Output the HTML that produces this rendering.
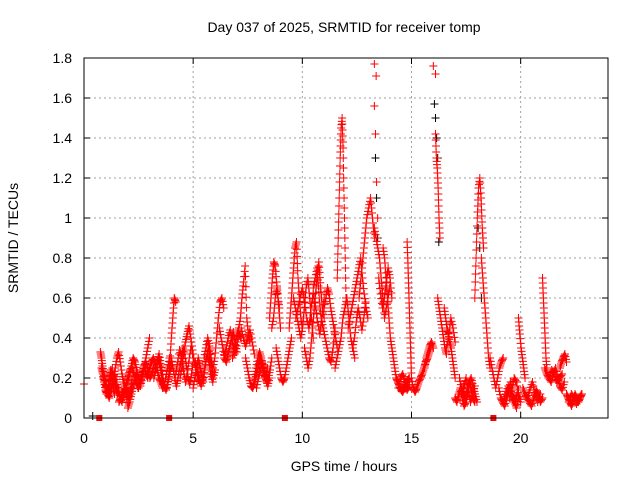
<!DOCTYPE html>
<html><head><meta charset="utf-8"><style>
body{margin:0;background:#fff;}
svg text{font-family:"Liberation Sans",sans-serif;font-size:14px;fill:#000;}
</style></head><body>
<svg id="chart" width="640" height="480" xmlns="http://www.w3.org/2000/svg">
<rect width="640" height="480" fill="#fff"/>
<text x="344" y="32" text-anchor="middle">Day 037 of 2025, SRMTID for receiver tomp</text>
<text transform="translate(18,238) rotate(-90)" text-anchor="middle">SRMTID / TECUs</text>
<text x="344" y="471" text-anchor="middle">GPS time / hours</text>
<g id="grid"></g>
<g id="ticks"></g>
<g id="marks"></g>
<rect x="84" y="58" width="524" height="360" fill="none" stroke="#000" stroke-width="1"/>
</svg>
<script>
const xTicks=[0,5,10,15,20];
const yTicks=[0,0.2,0.4,0.6,0.8,1,1.2,1.4,1.6,1.8];
const yTickLabels=["0","0.2","0.4","0.6","0.8","1","1.2","1.4","1.6","1.8"];
// tracks: [startHour, endHour, values]
const redTracks=[
[0.75,1.3,[0.33,0.3,0.26,0.22,0.2,0.17,0.15,0.12,0.14,0.18,0.22,0.25]],
[0.8,1.4,[0.25,0.22,0.18,0.14,0.12,0.15,0.2,0.24,0.2,0.15,0.12]],
[0.9,1.6,[0.2,0.18,0.15,0.12,0.1,0.13,0.16,0.2,0.17,0.14,0.12,0.15]],
[1.2,2.2,[0.12,0.15,0.2,0.25,0.3,0.33,0.28,0.22,0.18,0.15,0.12,0.1,0.14,0.18]],
[1.3,2.1,[0.2,0.22,0.18,0.14,0.1,0.08,0.12,0.16,0.2,0.24]],
[1.6,2.5,[0.08,0.1,0.12,0.15,0.13,0.05,0.08,0.12,0.16,0.2,0.22,0.18]],
[2.0,3.0,[0.18,0.22,0.26,0.3,0.28,0.24,0.2,0.16,0.2,0.25,0.3,0.35,0.4]],
[2.2,3.2,[0.25,0.22,0.18,0.15,0.18,0.22,0.26,0.28,0.24,0.2,0.22,0.26]],
[2.5,3.6,[0.15,0.18,0.22,0.25,0.22,0.2,0.25,0.28,0.3,0.27,0.24,0.2,0.18,0.15]],
[3.2,4.0,[0.2,0.24,0.28,0.32,0.27,0.22,0.16,0.14,0.18,0.22,0.26]],
[3.4,4.0,[0.3,0.26,0.2,0.15,0.2,0.25,0.3,0.25]],
[3.8,4.2,[0.15,0.2,0.28,0.4,0.5,0.6,0.58]],
[4.0,5.0,[0.3,0.25,0.2,0.16,0.2,0.25,0.3,0.35,0.32,0.26,0.2,0.17,0.22,0.28]],
[4.2,5.0,[0.22,0.28,0.34,0.3,0.24,0.18,0.22,0.3,0.36,0.3]],
[4.4,5.3,[0.2,0.25,0.32,0.38,0.42,0.46,0.4,0.34,0.28,0.24,0.2,0.18]],
[5.0,6.0,[0.15,0.2,0.24,0.3,0.26,0.22,0.18,0.25,0.3,0.35,0.3,0.25,0.2,0.24]],
[5.1,5.9,[0.28,0.24,0.2,0.16,0.2,0.26,0.32,0.28,0.22,0.18]],
[5.5,6.4,[0.3,0.35,0.4,0.36,0.3,0.25,0.3,0.4,0.5,0.58,0.6,0.55]],
[6.2,7.0,[0.45,0.4,0.35,0.3,0.28,0.32,0.36,0.4,0.43,0.38,0.33]],
[6.4,7.2,[0.3,0.34,0.4,0.44,0.38,0.32,0.36,0.42,0.4]],
[6.8,7.6,[0.3,0.34,0.38,0.42,0.45,0.5,0.6,0.68,0.76,0.5,0.42,0.38]],
[7.2,7.8,[0.45,0.4,0.36,0.4,0.44,0.38,0.32]],
[7.4,8.4,[0.3,0.25,0.2,0.16,0.15,0.18,0.22,0.26,0.3,0.27,0.22,0.2,0.25]],
[7.8,8.6,[0.2,0.25,0.3,0.33,0.3,0.26,0.22,0.18,0.2,0.24,0.3]],
[7.9,8.5,[0.15,0.2,0.24,0.28,0.24,0.2,0.16,0.2]],
[8.5,8.95,[0.5,0.6,0.7,0.78,0.76,0.68,0.6,0.55]],
[8.6,9.0,[0.45,0.5,0.6,0.65,0.55,0.45]],
[8.8,9.5,[0.35,0.3,0.25,0.2,0.18,0.2,0.25,0.3,0.35,0.4]],
[9.4,10.0,[0.45,0.55,0.65,0.75,0.85,0.88,0.7,0.6,0.5,0.45]],
[9.6,10.5,[0.6,0.55,0.5,0.45,0.4,0.45,0.55,0.65,0.7,0.6,0.5,0.4]],
[9.7,10.4,[0.5,0.55,0.6,0.65,0.58,0.5,0.45,0.5]],
[10.1,11.0,[0.35,0.3,0.25,0.3,0.4,0.5,0.6,0.7,0.78,0.65,0.55,0.5]],
[10.3,11.0,[0.45,0.55,0.62,0.56,0.48,0.42,0.5,0.6]],
[10.5,11.5,[0.65,0.7,0.75,0.6,0.5,0.45,0.4,0.35,0.3,0.28,0.35,0.45]],
[11.0,11.6,[0.55,0.6,0.65,0.62,0.55,0.5,0.45,0.4,0.35]],
[11.6,12.0,[0.7,0.9,1.1,1.3,1.45,1.5,1.35,1.1,0.85,0.6]],
[11.5,12.4,[0.25,0.3,0.35,0.4,0.5,0.55,0.6,0.5,0.4,0.35,0.3]],
[12.1,13.0,[0.45,0.5,0.55,0.6,0.65,0.7,0.75,0.8,0.7,0.62,0.55,0.5]],
[12.3,12.9,[0.35,0.4,0.48,0.55,0.5,0.44,0.5,0.58]],
[12.6,13.3,[0.6,0.7,0.8,0.9,1.0,1.05,1.1,1.0,0.9]],
[13.3,14.0,[0.95,0.9,0.85,0.8,0.7,0.6,0.5,0.55,0.6,0.65]],
[13.5,14.1,[0.7,0.62,0.55,0.6,0.68,0.75,0.7,0.6]],
[13.7,14.3,[0.85,0.8,0.7,0.6,0.5,0.4,0.35,0.3,0.25,0.2]],
[14.3,14.9,[0.2,0.18,0.16,0.14,0.13,0.15,0.17,0.19,0.2]],
[14.4,14.9,[0.15,0.2,0.22,0.18,0.14,0.16]],
[14.8,15.0,[0.88,0.8,0.7,0.6,0.5,0.4,0.3,0.2]],
[15.0,15.9,[0.2,0.15,0.13,0.15,0.18,0.2,0.22,0.25,0.28,0.3,0.33,0.36]],
[15.6,16.0,[0.25,0.3,0.33,0.36,0.38,0.35]],
[16.1,16.3,[1.42,1.3,1.25,1.15,1.0,0.9]],
[16.2,16.6,[0.6,0.55,0.5,0.45,0.4,0.35,0.32]],
[16.5,17.0,[0.55,0.5,0.45,0.42,0.38,0.35,0.3,0.25,0.2]],
[16.6,17.0,[0.35,0.4,0.5,0.45,0.38]],
[17.0,17.9,[0.1,0.08,0.12,0.15,0.1,0.06,0.08,0.12,0.18,0.14,0.1,0.08]],
[17.2,18.0,[0.2,0.15,0.12,0.1,0.14,0.18,0.2,0.16,0.12,0.08]],
[17.3,17.9,[0.12,0.16,0.2,0.14,0.08,0.12,0.16]],
[17.9,18.3,[0.6,0.8,1.0,1.15,1.2,1.1,0.95,0.85]],
[18.2,18.6,[0.8,0.7,0.6,0.5,0.4,0.3,0.25]],
[18.6,19.2,[0.3,0.25,0.2,0.15,0.2,0.25,0.28,0.3]],
[19.0,19.9,[0.15,0.1,0.08,0.06,0.1,0.14,0.18,0.12,0.08,0.05,0.1]],
[19.2,19.9,[0.08,0.12,0.16,0.12,0.08,0.1,0.14]],
[19.5,20.0,[0.1,0.15,0.2,0.18,0.12,0.08]],
[19.9,20.2,[0.5,0.42,0.35,0.3,0.25,0.2]],
[20.1,21.0,[0.15,0.12,0.1,0.08,0.06,0.1,0.14,0.12,0.08,0.1]],
[20.3,20.9,[0.1,0.14,0.18,0.12,0.08,0.12]],
[21.0,21.2,[0.7,0.6,0.5,0.4,0.3,0.25]],
[21.1,22.0,[0.25,0.22,0.2,0.18,0.22,0.25,0.2,0.16,0.14,0.18]],
[21.3,21.9,[0.2,0.24,0.22,0.18,0.2,0.22]],
[21.8,22.1,[0.25,0.28,0.3,0.32,0.28]],
[22.1,22.8,[0.12,0.1,0.08,0.06,0.09,0.12,0.1,0.08,0.1,0.12]],
[22.2,22.8,[0.08,0.12,0.1,0.07,0.1,0.12]]
];
// isolated points, drawn without fill-in
const sparseTracks=[
[0,0.02,[0.17]],
[13.3,13.38,[1.77,1.71]],
[13.3,13.45,[1.56,1.42,1.18,1.0]],
[16.0,16.1,[1.76,1.72]]
];
const blackTracks=[
[16.05,16.25,[1.57,1.5,1.4,1.3,0.88]],
[13.35,13.45,[1.3,1.1,0.9]],
[18.05,18.2,[0.95,0.85,0.6]],
[0.4,0.5,[0.01]]
];
const zeroSquares=[0.7,3.9,9.2,18.75];

const X0=84,X1=608,Y0=418,Y1=58,XMAX=24,YMAX=1.8;
const sx=t=>X0+t/XMAX*(X1-X0);
const sy=v=>Y0-v/YMAX*(Y0-Y1);
const NS="http://www.w3.org/2000/svg";
const grid=document.getElementById('grid'),ticks=document.getElementById('ticks'),marks=document.getElementById('marks');
function mk(tag,attrs,parent){const e=document.createElementNS(NS,tag);for(const k in attrs)e.setAttribute(k,attrs[k]);parent.appendChild(e);return e;}
yTicks.forEach((v,i)=>{
  const y=sy(v);
  if(i>0&&i<yTicks.length-1){const g=mk('line',{x1:X0,x2:X1,y1:y,y2:y,stroke:'#a0a0a0','stroke-dasharray':'2,3'},grid);
  
  }
  mk('line',{x1:X0,x2:X0+6,y1:y,y2:y,stroke:'#000'},ticks);
  mk('line',{x1:X1,x2:X1-6,y1:y,y2:y,stroke:'#000'},ticks);
  const t=mk('text',{x:72,y:y+5,'text-anchor':'end'},ticks);t.textContent=yTickLabels[i];
  
  
});
xTicks.forEach(v=>{
  const x=sx(v);
  if(v>0){const g=mk('line',{x1:x,x2:x,y1:Y0,y2:Y1,stroke:'#a0a0a0','stroke-dasharray':'2,3'},grid);
  
  }
  mk('line',{x1:x,x2:x,y1:Y0,y2:Y0-6,stroke:'#000'},ticks);
  mk('line',{x1:x,x2:x,y1:Y1,y2:Y1+6,stroke:'#000'},ticks);
  const t=mk('text',{x:x,y:443,'text-anchor':'middle'},ticks);t.textContent=String(v);
  
  
});
function plus(t,v,color){
  const x=sx(t),y=sy(v);
  const p=mk('path',{d:`M${x-4},${y}H${x+4}M${x},${y-4}V${y+4}`,stroke:color,'stroke-width':1,fill:'none'},marks);
  
  
}
function drawTracks(tr,color,dense){
  tr.forEach(([a,b,vals])=>{
    const n=vals.length;
    vals.forEach((v,i)=>{
      const t=n>1?a+(b-a)*i/(n-1):a;
      plus(t,v,color);
      if(dense&&i<n-1){
        const t2=a+(b-a)*(i+1)/(n-1);
        const k=Math.min(4,Math.max(2,Math.ceil(Math.abs(vals[i+1]-v)/0.04)));
        for(let j=1;j<=k;j++){plus(t+(t2-t)*j/(k+1),v+(vals[i+1]-v)*j/(k+1),color);}
      }
    });
  });
}
drawTracks(blackTracks,'#000',false);
drawTracks(redTracks,'#ff0000',true);
drawTracks(sparseTracks,'#ff0000',false);
zeroSquares.forEach(t=>{
  const r=mk('rect',{x:sx(t)-3,y:Y0-3,width:6,height:6,fill:'#ff0000'},marks);
  
  
});
</script>
</body></html>
